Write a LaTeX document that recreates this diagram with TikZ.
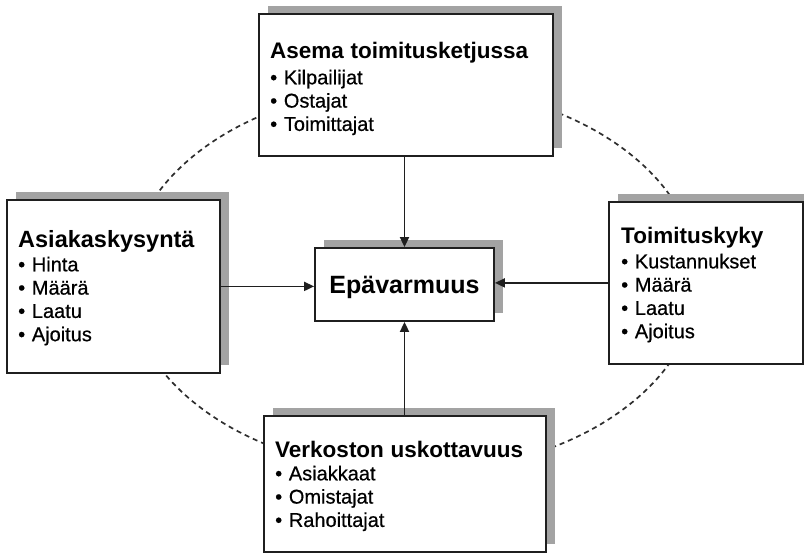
\documentclass[tikz,border=0pt]{standalone}
\usepackage{fontspec}
\setmainfont{Liberation Sans}
% slightly heavier upright face for the list text
\newfontfamily\listfont{Liberation Sans}[FakeBold=0.6]
\usetikzlibrary{arrows.meta}
\begin{document}
\begin{tikzpicture}[x=1pt,y=-1pt,
  box/.style={draw=black!88, line width=1.8pt, fill=white, anchor=north west,
    inner sep=0pt,
    preaction={draw=none, fill=black!36,
      transform canvas={xshift=9pt, yshift=8pt}}},
  boxtext/.style={anchor=base west, inner sep=0pt, align=left,
    font=\listfont\fontsize{20}{23.3}\selectfont},
  arr/.style={draw=black!88, line width=1.8pt, -{Triangle[length=10pt,width=9pt]}},
  ring/.style={draw=black!82, line width=1.7pt, dash pattern=on 5pt off 4pt}]
\useasboundingbox (0,0) rectangle (804,554);

% dashed ring linking the four factors (behind the boxes)
\draw[ring] (413,279) ellipse [x radius=285pt, y radius=193pt];

% the four factor boxes and the central box
\node[box, minimum width=294pt, minimum height=142pt] (asema) at (258,13) {};
\node[box, minimum width=213pt, minimum height=173pt] (asiakas) at (6,199) {};
\node[box, minimum width=194pt, minimum height=162pt] (kyky) at (608,201) {};
\node[box, minimum width=282pt, minimum height=136pt] (verkosto) at (263,415) {};
\node[box, anchor=center, minimum width=179pt, minimum height=73pt,
  font=\fontsize{25}{25}\bfseries\selectfont, text height=18pt, text depth=0pt]
  (epa) at (404.5,284.5) {Epävarmuus};

% box contents
\node[boxtext, text width=280pt] (t1) at (270,58)
  {{\fontsize{22.5}{23.3}\normalfont\bfseries\selectfont Asema toimitusketjussa}\\[3pt]
   • Kilpailijat\\ • Ostajat\\ • Toimittajat};
\node[boxtext, text width=200pt] (t2) at (18,247)
  {{\fontsize{23.5}{23.3}\normalfont\bfseries\selectfont Asiakaskysyntä}\\[1pt]
   • Hinta\\ • Määrä\\ • Laatu\\ • Ajoitus};
\node[boxtext, text width=180pt] (t3) at (621,243)
  {{\fontsize{22.5}{23.3}\normalfont\bfseries\selectfont Toimituskyky}\\[2pt]
   • Kustannukset\\ • Määrä\\ • Laatu\\ • Ajoitus};
\node[boxtext, text width=265pt] (t4) at (275,457)
  {{\fontsize{22.5}{23.3}\normalfont\bfseries\selectfont Verkoston uskottavuus}\\[0pt]
   • Asiakkaat\\ • Omistajat\\ • Rahoittajat};

% arrows into the central box
\draw[arr] (epa.north |- asema.south) -- (epa.north);
\draw[arr] (epa.south |- verkosto.north) -- (epa.south);
\draw[arr] (asiakas.east) -- (asiakas.east -| epa.west);
\draw[arr] (kyky.west) -- (kyky.west -| epa.east);
\end{tikzpicture}
\end{document}
